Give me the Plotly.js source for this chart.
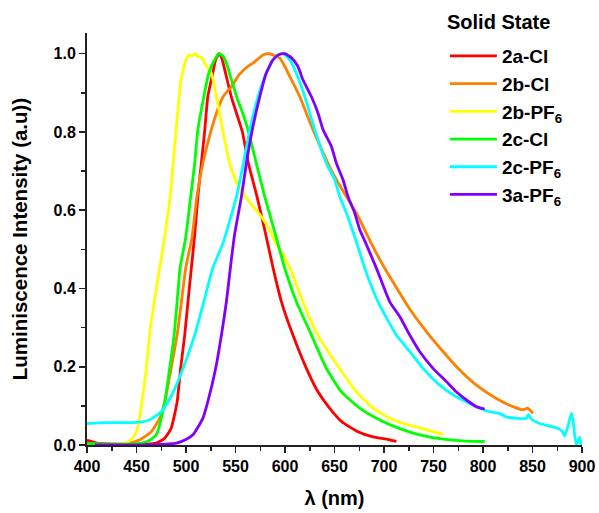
<!DOCTYPE html>
<html>
<head>
<meta charset="utf-8">
<script src="https://cdn.plot.ly/plotly-3.0.1.min.js"></script>
<style>html,body{margin:0;padding:0;background:#fff;}</style>
</head>
<body>
<div id="chart" style="width:599px;height:513px;"></div>
<script>
// ---- Data ----
const names = ["2a-Cl", "2b-Cl", "2b-PF<sub>6</sub>", "2c-Cl", "2c-PF<sub>6</sub>", "3a-PF<sub>6</sub>"];
const colors = ["#ff0000", "#ff8000", "#ffff00", "#00ff00", "#00ffff", "#8000ff"];
const legendTitle = "Solid State";

const wl_2aCl = [400,405,410,420,440,460,470,478.5,485,491,494.6,498.7,502,505.4,508.8,512,515.5,519,522,527,530,533.4,536,540,545.8,551,557,563,571.7,579.5,588,596.4,608,621.6,633.3,645,657,673.7,689,702.4,712.5];
const I_2aCl  = [0.012,0.009,0.005,0.003,0.002,0.002,0.005,0.017,0.043,0.11,0.196,0.281,0.366,0.452,0.537,0.635,0.72,0.806,0.89,0.95,0.985,1.0,0.99,0.95,0.89,0.848,0.80,0.72,0.635,0.55,0.452,0.366,0.281,0.196,0.136,0.094,0.06,0.034,0.021,0.015,0.009];

const wl_2bCl = [400,420,440,453,465,473.4,478.5,485,491,495.4,499.7,506,511,517,525.6,530.7,537.4,545.8,554,562.6,567.7,577.8,584.5,589.6,594.6,599.7,606.4,615,621.6,628.3,643.4,651.9,662,672,680.5,687,700,716,727.7,742.8,759.6,774.8,793.3,813.5,830.3,840.4,845,850.5];
const I_2bCl  = [0.003,0.002,0.004,0.013,0.034,0.068,0.11,0.196,0.281,0.366,0.452,0.53,0.635,0.72,0.806,0.848,0.89,0.916,0.947,0.968,0.976,0.997,1.0,0.995,0.989,0.968,0.934,0.89,0.848,0.806,0.72,0.678,0.635,0.593,0.55,0.516,0.455,0.388,0.341,0.29,0.239,0.196,0.153,0.119,0.098,0.09,0.094,0.081];

const wl_2bPF6 = [400,420,435,440,445,450,452.5,456,460,464,470.7,478,484,490,495,500,503,506,509,512,516,519,525.6,530.7,537,544,552,560,566,576,584.5,590,597,605,618,633,655,672,689,706,720,736,760];
const I_2bPF6  = [0.0,0.001,0.003,0.006,0.015,0.034,0.06,0.12,0.197,0.3,0.41,0.525,0.635,0.806,0.934,0.985,0.997,0.995,1.0,0.993,0.99,0.975,0.95,0.89,0.806,0.72,0.665,0.635,0.615,0.584,0.55,0.52,0.49,0.452,0.366,0.281,0.196,0.136,0.094,0.068,0.055,0.044,0.027];

const wl_2cCl = [400,420,440,455,462,470,478.5,483.5,488,491,494,499.7,504.7,508.8,512,518,523,529,533.4,537,540.8,545.8,552.5,557,562.6,571,579.5,589.6,599.7,611.5,626.7,641.8,657,675.5,695.7,716,736,759.6,783,801.7];
const I_2cCl  = [0.004,0.002,0.002,0.005,0.01,0.026,0.11,0.196,0.281,0.366,0.452,0.53,0.635,0.72,0.806,0.89,0.95,0.985,1.0,0.995,0.976,0.934,0.88,0.85,0.806,0.72,0.635,0.545,0.452,0.366,0.281,0.196,0.136,0.094,0.064,0.042,0.026,0.015,0.01,0.009];

const wl_2cPF6 = [400,420,440,450,457,463,470,475,481.8,490.3,497,508.8,518,527,537.4,551,558,564,572.7,581,588,593,598,604.7,611.5,620,625,630,641.8,650.2,655.3,662,668,672,680.5,694,712.5,726,739.5,756.3,769.8,783.3,796.7,806.8,815,823.6,835,843.8,846,849,857.3,865,874.1,880,882.5,886,889.3,891,894.3,897.7,899];
const I_2cPF6  = [0.055,0.057,0.057,0.058,0.06,0.064,0.075,0.085,0.11,0.153,0.196,0.281,0.366,0.452,0.516,0.635,0.72,0.80,0.89,0.95,0.985,0.997,1.0,0.985,0.95,0.89,0.848,0.806,0.72,0.678,0.635,0.593,0.55,0.52,0.452,0.366,0.281,0.239,0.196,0.153,0.128,0.11,0.094,0.085,0.082,0.072,0.068,0.068,0.078,0.066,0.055,0.05,0.044,0.035,0.023,0.05,0.081,0.06,0.0,0.02,0.0];

const wl_3aPF6 = [408,440,470,490.3,500,507,517,522,530,535.8,540.8,544.8,549,556,561,567,574.5,581,588,594,599.7,606.4,613,618,626.7,633.4,638.4,646.9,651.9,658.6,663.6,670.4,675.5,680,692.3,705.8,716,726,736,749.5,763,773,783.3,793.4,801.7];
const I_3aPF6  = [0.0,0.0,0.001,0.005,0.014,0.026,0.068,0.11,0.196,0.281,0.366,0.452,0.537,0.635,0.72,0.806,0.89,0.95,0.985,0.998,1.0,0.99,0.968,0.934,0.89,0.848,0.806,0.763,0.72,0.678,0.635,0.593,0.55,0.525,0.452,0.366,0.328,0.281,0.239,0.196,0.162,0.136,0.115,0.098,0.092];

const xTicks = [400,450,500,550,600,650,700,750,800,850,900];
const yTicks = [0.0,0.2,0.4,0.6,0.8,1.0];

// ---- Traces ----
const series = [
  [wl_2aCl, I_2aCl], [wl_2bCl, I_2bCl], [wl_2bPF6, I_2bPF6],
  [wl_2cCl, I_2cCl], [wl_2cPF6, I_2cPF6], [wl_3aPF6, I_3aPF6]
];
const traces = series.map((s, i) => ({
  x: s[0], y: s[1], type: 'scatter', mode: 'lines', name: names[i],
  line: {color: colors[i], width: 2.8, shape: 'spline', smoothing: 0.5}
}));

const fontFam = 'Liberation Sans, Arial, sans-serif';
const layout = {
  width: 599, height: 513,
  margin: {l: 87, r: 17, t: 33, b: 68},
  paper_bgcolor: '#fff', plot_bgcolor: '#fff',
  font: {family: fontFam, color: '#000'},
  showlegend: true,
  xaxis: {
    range: [400, 900], tickmode: 'array', tickvals: xTicks, ticktext: xTicks.map(String),
    ticks: 'outside', ticklen: 6, tickwidth: 1.5, tickcolor: '#222',
    showline: true, linecolor: '#222', linewidth: 2, showgrid: false, zeroline: false,
    tickfont: {size: 16, weight: 'bold', family: fontFam},
    minor: {dtick: 25, tick0: 400, ticks: 'outside', ticklen: 4, tickwidth: 1.5, tickcolor: '#222', showgrid: false},
    title: {text: 'λ (nm)', font: {size: 20, weight: 'bold', family: fontFam}, standoff: 17}
  },
  yaxis: {
    range: [0, 1.053], tickmode: 'array', tickvals: yTicks, ticktext: yTicks.map(v => v.toFixed(1)),
    ticks: 'outside', ticklen: 6, tickwidth: 1.5, tickcolor: '#222',
    showline: true, linecolor: '#222', linewidth: 2, showgrid: false, zeroline: false,
    tickfont: {size: 16, weight: 'bold', family: fontFam},
    minor: {dtick: 0.1, tick0: 0, ticks: 'outside', ticklen: 4, tickwidth: 1.5, tickcolor: '#222', showgrid: false},
    title: {text: 'Luminiscence Intensity (a.u))', font: {size: 20.5, weight: 'bold', family: fontFam}, standoff: 20}
  },
  legend: {
    x: 0.723, xanchor: 'left', y: 0.99, yanchor: 'top',
    bgcolor: 'rgba(0,0,0,0)', borderwidth: 0, itemwidth: 47,
    font: {size: 19, weight: 'bold', family: fontFam},
    tracegroupgap: 0
  },
  annotations: [{
    text: legendTitle, xref: 'paper', yref: 'paper', x: 0.723, y: 1.027,
    xanchor: 'left', yanchor: 'middle', showarrow: false,
    font: {size: 20, weight: 'bold', family: fontFam, color: '#000'}
  }]
};

Plotly.newPlot('chart', traces, layout, {displayModeBar: false, staticPlot: true});
</script>
</body>
</html>
